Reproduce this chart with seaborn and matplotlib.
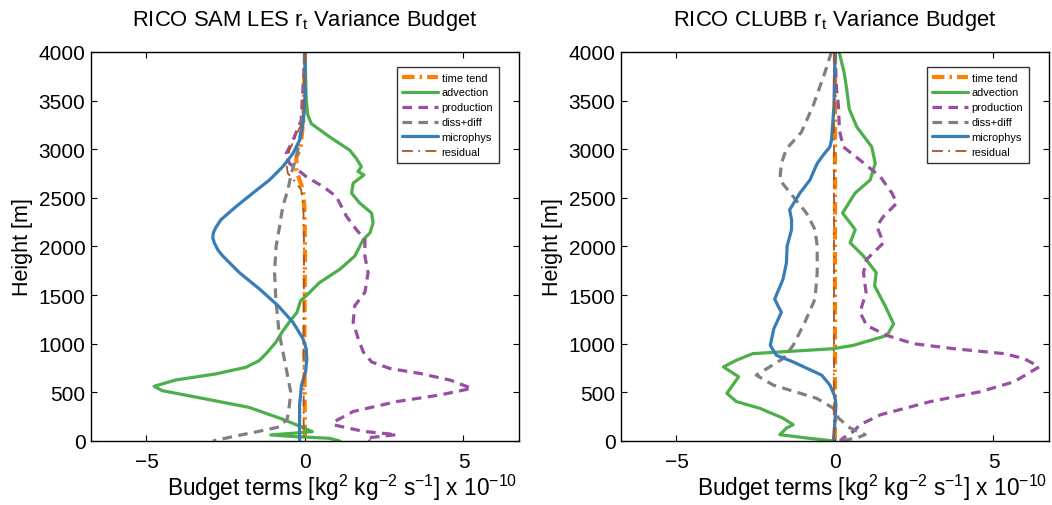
import numpy as np
import pandas as pd
import matplotlib
matplotlib.use("Agg")
import matplotlib.pyplot as plt
import seaborn as sns

# ---------------- data (values x 1e-10, heights in m) ----------------
# Left panel: SAM LES
les_adv_z = [4000, 3500, 3350, 3262, 3125, 2990, 2904, 2820, 2770, 2735, 2650, 2547, 2445, 2343, 2241, 2139,
             2071, 1901, 1765, 1629, 1493, 1442, 1323, 1220, 1120, 1014, 900, 825, 757, 689, 627, 562, 517, 432,
             346, 226, 141, 96, 62, 45, 28, 0]
les_adv_x = [0.0, 0.04, 0.09, 0.2, 0.78, 1.41, 1.62, 1.78, 1.67, 1.86, 1.52, 1.47, 1.73, 2.10, 2.15, 2.05,
             1.84, 1.57, 1.10, 0.46, 0.04, -0.14, -0.25, -0.50, -0.72, -0.92, -1.22, -1.45, -1.87, -2.82, -4.08,
             -4.76, -4.50, -3.13, -1.77, -0.72, -0.08, 0.23, -1.08, -0.3, 0.76, 1.10]

les_prod_z = [4000, 3296, 3091, 2955, 2854, 2786, 2717, 2615, 2513, 2309, 2173, 2071, 1901, 1731, 1527, 1391,
              1221, 1051, 915, 813, 745, 694, 626, 541, 473, 405, 303, 201, 167, 99, 65, 31, 0]
les_prod_x = [0.0, -0.12, -0.38, -0.59, -0.49, -0.22, 0.04, 0.57, 0.99, 1.31, 1.62, 1.89, 1.89, 1.99, 1.89, 1.57,
              1.52, 1.68, 1.84, 2.10, 2.68, 3.63, 4.58, 5.26, 4.26, 2.89, 1.52, 0.94, 0.89, 1.84, 2.89, 1.94, 2.05]

les_diss_z = [4000, 3500, 3091, 2921, 2751, 2581, 2411, 2207, 2003, 1731, 1459, 1120, 774, 503, 370, 226, 144,
              92, 51, 3, 0]
les_diss_x = [0.0, -0.02, -0.17, -0.27, -0.43, -0.54, -0.70, -0.80, -0.91, -0.96, -0.92, -0.82, -0.61, -0.45,
              -0.49, -0.56, -0.82, -1.56, -2.19, -2.87, -2.9]

les_micro_z = [4000, 3500, 3262, 3091, 2955, 2820, 2683, 2547, 2411, 2275, 2190, 2139, 2090, 2037, 1960, 1901,
               1731, 1561, 1391, 1221, 1051, 945, 850, 711, 575, 371, 31, 0]
les_micro_x = [0.0, 0.0, -0.06, -0.17, -0.38, -0.70, -1.12, -1.65, -2.17, -2.65, -2.82, -2.89, -2.91, -2.86,
               -2.74, -2.59, -2.07, -1.43, -0.85, -0.38, -0.06, 0.04, 0.06, 0.02, -0.11, -0.17, -0.17, -0.17]

les_tend_z = [4000, 3300, 3000, 2921, 2786, 2683, 2581, 2400, 2000, 1000, 0]
les_tend_x = [0.0, -0.05, -0.15, -0.27, -0.27, -0.17, -0.06, -0.02, 0.0, -0.02, 0.0]

les_resid_z = [4000, 3296, 2990, 2854, 2751, 2650, 2581, 2400, 2000, 1000, 0]
les_resid_x = [0.0, -0.06, -0.49, -0.59, -0.54, -0.27, -0.12, -0.05, -0.03, -0.04, -0.04]

# Right panel: CLUBB
clb_adv_z = [4000, 3786, 3616, 3412, 3228, 3024, 2854, 2683, 2547, 2343, 2173, 2037, 1901, 1731, 1595, 1391,
             1204, 1085, 983, 949, 898, 830, 762, 660, 490, 405, 337, 235, 167, 133, 65, 31, 0]
clb_adv_x = [0.13, 0.29, 0.37, 0.45, 0.69, 1.16, 1.27, 1.11, 0.63, 0.24, 0.64, 0.48, 0.90, 1.30, 1.25, 1.58,
             1.85, 1.64, 0.58, -0.05, -2.59, -3.11, -3.52, -3.04, -3.41, -3.11, -2.38, -1.64, -1.32, -1.53,
             -1.74, -0.90, -0.05]

clb_prod_z = [4000, 3616, 3446, 3194, 3024, 2888, 2717, 2547, 2445, 2309, 2207, 2037, 1867, 1731, 1527, 1323,
              1187, 1085, 1000, 949, 898, 847, 762, 609, 507, 405, 269, 167, 99, 31, 0]
clb_prod_x = [0.0, 0.05, 0.11, 0.14, 0.26, 0.79, 1.43, 1.80, 1.95, 1.53, 1.32, 1.53, 1.00, 0.90, 0.98, 0.79,
              1.00, 1.64, 2.48, 3.75, 5.33, 5.97, 6.44, 5.65, 4.59, 3.01, 1.43, 0.79, 0.58, 0.26, 0.16]

clb_diss_z = [4000, 3786, 3446, 3174, 3004, 2854, 2683, 2513, 2343, 2173, 2003, 1731, 1459, 1221, 983, 847, 677,
              575, 439, 337, 235, 133, 65, 31, 0]
clb_diss_x = [-0.11, -0.32, -0.69, -1.06, -1.53, -1.69, -1.74, -1.32, -0.90, -0.63, -0.56, -0.56, -0.63, -0.95,
              -1.32, -1.64, -2.48, -1.95, -0.58, -0.05, 0.11, 0.48, 0.95, 0.69, 0.16]

clb_micro_z = [4000, 3446, 3091, 3024, 2939, 2854, 2683, 2547, 2377, 2275, 2173, 2003, 1833, 1663, 1459, 1391,
               1323, 1153, 983, 881, 813, 677, 575, 456, 371, 201, 0]
clb_micro_x = [0.0, -0.03, -0.11, -0.16, -0.37, -0.56, -0.79, -1.11, -1.43, -1.37, -1.37, -1.51, -1.53, -1.64,
               -1.90, -1.80, -1.69, -1.93, -2.04, -1.85, -1.32, -0.42, -0.16, 0.0, 0.03, 0.0, -0.05]

clb_tend_z = [4000, 2000, 0]
clb_tend_x = [0.0, 0.0, 0.0]

clb_resid_z = [4000, 2000, 0]
clb_resid_x = [-0.02, -0.02, -0.02]

series_names = ["time tend", "advection", "production", "diss+diff", "microphys", "residual"]
titles = ["RICO SAM LES r$_\\mathrm{t}$ Variance Budget", "RICO CLUBB r$_\\mathrm{t}$ Variance Budget"]
xlabel = "Budget terms [kg$^2$ kg$^{-2}$ s$^{-1}$] x 10$^{-10}$"
ylabel = "Height [m]"
xtick_vals = [-5, 0, 5]
ytick_vals = [0, 500, 1000, 1500, 2000, 2500, 3000, 3500, 4000]

panels = [
    [(les_tend_x, les_tend_z), (les_adv_x, les_adv_z), (les_prod_x, les_prod_z),
     (les_diss_x, les_diss_z), (les_micro_x, les_micro_z), (les_resid_x, les_resid_z)],
    [(clb_tend_x, clb_tend_z), (clb_adv_x, clb_adv_z), (clb_prod_x, clb_prod_z),
     (clb_diss_x, clb_diss_z), (clb_micro_x, clb_micro_z), (clb_resid_x, clb_resid_z)],
]

styles = {
    "time tend": dict(color="#ff7f00", lw=3.0, ls=(0, (3, 1.2, 0.6, 1.2))),
    "advection": dict(color="#4daf4a", lw=2.3, ls="-"),
    "production": dict(color="#984ea3", lw=2.3, ls=(0, (3, 2))),
    "diss+diff": dict(color="#808080", lw=2.3, ls=(0, (3, 2))),
    "microphys": dict(color="#377eb8", lw=2.3, ls="-"),
    "residual": dict(color="#a65628", lw=1.3, ls=(0, (6, 3, 1, 3))),
}

# ---------------- plotting ----------------
sns.set_style("ticks", {"xtick.direction": "in", "ytick.direction": "in"})
plt.rcParams["font.family"] = ["Liberation Sans", "DejaVu Sans"]
plt.rcParams["mathtext.fontset"] = "custom"
plt.rcParams["mathtext.rm"] = "Liberation Sans"
plt.rcParams["mathtext.it"] = "Liberation Sans:italic"
plt.rcParams["axes.linewidth"] = 1.0
plt.rcParams["axes.edgecolor"] = "black"
for key in ["text.color", "axes.labelcolor", "xtick.color", "ytick.color"]:
    plt.rcParams[key] = "black"

fig = plt.figure(figsize=(10.52, 5.06), dpi=100)
ax_pos = [[0.0865, 0.1265, 0.4068, 0.769], [0.5903, 0.1265, 0.4068, 0.769]]

for p, (pos, data, title) in enumerate(zip(ax_pos, panels, titles)):
    ax = fig.add_axes(pos)
    for name, (xv, zv) in zip(series_names, data):
        st = styles[name]
        df = pd.DataFrame({"x": xv, "z": zv})
        sns.lineplot(data=df, x="x", y="z", orient="y", estimator=None, sort=False, ax=ax,
                     color=st["color"], linewidth=st["lw"], linestyle=st["ls"], label=name)
    ax.set_xlim(-6.75, 6.75)
    ax.set_ylim(0, 4000)
    ax.set_xticks(xtick_vals)
    ax.set_yticks(ytick_vals)
    ax.tick_params(top=True, right=True, direction="in", labelsize=15, length=4, width=0.8,
                   colors="black")
    ax.tick_params(axis="x", pad=8)
    ax.tick_params(axis="y", pad=4)
    ax.set_title(title, fontsize=15.8, pad=19, color="black")
    ax.set_xlabel(xlabel, fontsize=16.3, color="black")
    ax.xaxis.set_label_coords(0.5865, -0.08)
    ax.set_ylabel(ylabel, fontsize=15.5, labelpad=4, color="black")
    leg = ax.legend(loc="upper right", bbox_to_anchor=(0.953, 0.961), borderaxespad=0,
                    fontsize=7.9, frameon=True, fancybox=False, handlelength=3.3,
                    handletextpad=0.3, borderpad=0.5, labelspacing=0.45)
    leg.get_frame().set_edgecolor("black")
    leg.get_frame().set_linewidth(1.0)
    for sp in ax.spines.values():
        sp.set_color("black")

fig.savefig("out.png", dpi=100, facecolor="white")
